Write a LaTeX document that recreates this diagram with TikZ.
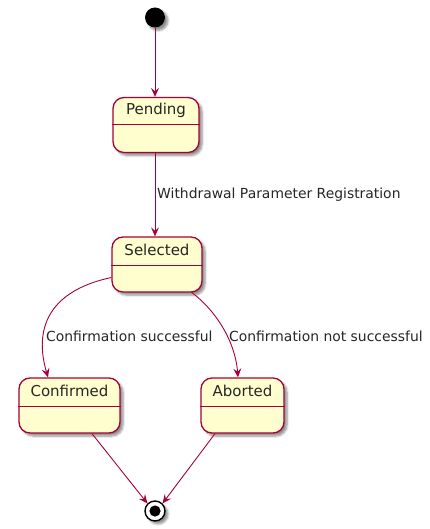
\documentclass[tikz,border=0pt]{standalone}
\usepackage{fontspec}
\setmainfont{DejaVu Sans}
\usetikzlibrary{arrows.meta,shadows.blur,calc}
\definecolor{stateFill}{HTML}{FEFECE}
\definecolor{stateLine}{HTML}{A80036}
\tikzset{
  x=1pt, y=-1pt,
  softshadow/.style={blur shadow={shadow xshift=3pt, shadow yshift=-3pt, shadow blur steps=6, shadow opacity=45}},
  statebox/.style={draw=stateLine, fill=stateFill, line width=1.3pt, rounded corners=11pt,
    minimum height=55pt, inner sep=0pt, softshadow},
  statename/.style={font=\fontsize{15}{17}\selectfont, text=black!85, inner sep=0pt},
  divider/.style={draw=stateLine, line width=1.1pt},
  trans/.style={draw=stateLine, line width=0.9pt,
    -{Stealth[length=9pt,width=8pt,inset=3.5pt]}},
  translabel/.style={font=\fontsize{13.9}{16}\selectfont, text=black!85, inner sep=0pt, anchor=west},
}
\begin{document}
\begin{tikzpicture}
\useasboundingbox (0,0) rectangle (429,529);

% initial and final pseudo-states
\node[circle, fill=black, minimum size=20pt, inner sep=0pt, softshadow] (start) at (155,17.5) {};
\node[circle, draw=black, fill=white, line width=1.4pt, minimum size=20pt, inner sep=0pt, softshadow] (stop) at (155,511) {};
\fill[black] (stop.center) circle (5.6pt);

% states: body, name and compartment divider
\node[statebox, minimum width=86pt] (pend) at (156,125) {};
\node[statename] at ($(pend.north)+(0,13.5)$) {Pending};
\draw[divider] ([yshift=-28pt]pend.north west) -- ([yshift=-28pt]pend.north east);

\node[statebox, minimum width=90pt] (sel) at (157,264.5) {};
\node[statename] at ($(sel.north)+(0,14)$) {Selected};
\draw[divider] ([yshift=-29pt]sel.north west) -- ([yshift=-29pt]sel.north east);

\node[statebox, minimum width=101pt] (conf) at (69.5,405.5) {};
\node[statename] at ($(conf.north)+(0,14)$) {Confirmed};
\draw[divider] ([yshift=-29pt]conf.north west) -- ([yshift=-29pt]conf.north east);

\node[statebox, minimum width=83pt] (abo) at (242.5,405.5) {};
\node[statename] at ($(abo.north)+(0,14)$) {Aborted};
\draw[divider] ([yshift=-29pt]abo.north west) -- ([yshift=-29pt]abo.north east);

% transitions
\draw[trans] (start) -- (start |- pend.north);
\draw[trans] (start |- pend.south) -- (start |- sel.north);
\node[translabel] (lblWd) at (157,194.5) {Withdrawal Parameter Registration};

\draw[trans] ([yshift=-13pt]sel.west) .. controls (30,295) and (40,350) .. ([xshift=-21.5pt]conf.north);
\node[translabel] (lblOk) at (46,336) {Confirmation successful};

\draw[trans] ([xshift=35pt]sel.south) .. controls (215,310) and (235,340) .. ([xshift=-4.5pt]abo.north);
\node[translabel] (lblNo) at (229,336) {Confirmation not successful};

\draw[trans] ([xshift=22.5pt]conf.south) -- (stop.135);
\draw[trans] ([xshift=-27.5pt]abo.south) -- (stop.45);
\end{tikzpicture}
\end{document}
